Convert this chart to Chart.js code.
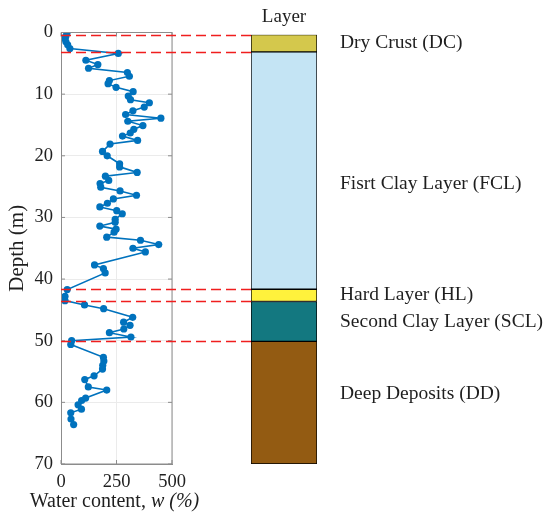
<!DOCTYPE html>
<html>
<head>
<meta charset="utf-8">
<script src="https://cdn.jsdelivr.net/npm/chart.js@4.4.1/dist/chart.umd.min.js"></script>
<style>
  html, body { margin: 0; padding: 0; background: #ffffff; }
  #wrap { position: relative; width: 545px; height: 515px; }
  canvas { position: absolute; left: 0; top: 0; }
</style>
</head>
<body>
<div id="wrap">
  <canvas id="left" width="545" height="515"></canvas>
  <canvas id="right" width="545" height="515"></canvas>
</div>
<script>
// ---- data ----
const depth = [0.1, 0.6, 1.0, 1.5, 2.0, 2.6, 3.4, 4.5, 5.2, 5.8, 6.5, 7.1, 7.8, 8.3, 8.9, 9.6,
  10.3, 10.9, 11.4, 12.1, 12.7, 13.3, 13.9, 14.4, 15.1, 15.7, 16.3, 16.8, 17.5, 18.1, 19.3, 20.0,
  21.3, 21.8, 22.7, 23.3, 24.0, 24.5, 25.1, 25.7, 26.4, 27.0, 27.7, 28.3, 28.9, 29.4, 30.3, 30.8,
  31.4, 31.9, 32.4, 33.2, 33.7, 34.4, 35.0, 35.6, 37.7, 38.3, 39.0, 41.7, 42.8, 43.5, 44.2, 44.8,
  46.2, 47.0, 47.5, 48.1, 48.7, 49.4, 50.0, 50.6, 52.7, 53.3, 54.0, 54.6, 55.7, 56.3, 57.5, 58.0,
  59.3, 59.7, 60.4, 61.1, 61.7, 62.7, 63.6];
const waterContent = [27, 22, 18, 22, 30, 40, 258, 112, 166, 124, 299, 308, 218, 212, 248, 325,
  303, 313, 398, 375, 324, 291, 450, 301, 369, 328, 312, 277, 345, 221, 187, 208,
  264, 264, 343, 200, 215, 176, 179, 266, 340, 236, 209, 175, 251, 276, 244, 244,
  175, 248, 239, 206, 358, 440, 324, 380, 151, 191, 199, 28, 18, 18, 106, 192,
  323, 282, 311, 283, 218, 315, 48, 44, 191, 193, 188, 187, 149, 107, 123, 206,
  111, 93, 77, 92, 44, 45, 57];
const layerNames = ['Dry Crust (DC)', 'Fisrt Clay Layer (FCL)', 'Hard Layer (HL)', 'Second Clay Layer (SCL)', 'Deep Deposits (DD)'];
const layerBounds = [0, 2.8, 41.5, 43.5, 50, 70];
const layerLabelDepth = [1.4, 24.4, 42.4, 46.9, 58.5];
const layerColors = ['#d4c84c', '#c4e4f4', '#fff23c', '#137880', '#935b12'];
const xTicks = [0, 250, 500];
const yTicks = [0, 10, 20, 30, 40, 50, 60, 70];

const FAMILY = "'Liberation Serif', 'Times New Roman', serif";
const TEXT = '#1f1f1f';
const AXIS = '#8c8c8c';
const GRID = '#ebebeb';

const leftBox = {
  id: 'leftBox',
  afterDraw(chart) {
    const ctx = chart.ctx, a = chart.chartArea;
    const xs = chart.scales.x, ys = chart.scales.y;
    ctx.save();
    ctx.strokeStyle = AXIS; ctx.lineWidth = 1;
    ctx.strokeRect(a.left + 0.5, a.top, a.right - a.left - 0.5, a.bottom - a.top);
    ctx.beginPath();
    yTicks.forEach(v => {
      const y = ys.getPixelForValue(v);
      ctx.moveTo(a.left, y); ctx.lineTo(a.left + 4, y);
      ctx.moveTo(a.right, y); ctx.lineTo(a.right - 4, y);
    });
    xTicks.forEach(v => {
      const x = xs.getPixelForValue(v);
      ctx.moveTo(x, a.bottom); ctx.lineTo(x, a.bottom - 4);
      ctx.moveTo(x, a.top); ctx.lineTo(x, a.top + 4);
    });
    ctx.stroke();
    // x axis title with italic part
    const p1 = 'Water content, ', p2 = 'w (%)';
    const f1 = "20px " + FAMILY, f2 = "italic 20px " + FAMILY;
    ctx.font = f1; const w1 = ctx.measureText(p1).width;
    ctx.font = f2; const w2 = ctx.measureText(p2).width;
    const cx = (a.left + a.right) / 2 - 2;
    const x0 = cx - (w1 + w2) / 2;
    ctx.fillStyle = TEXT; ctx.textBaseline = 'middle'; ctx.textAlign = 'left';
    ctx.font = f1; ctx.fillText(p1, x0, 502);
    ctx.font = f2; ctx.fillText(p2, x0 + w1, 502);
    ctx.restore();
  }
};

const leftChart = new Chart(document.getElementById('left'), {
  type: 'line',
  data: {
    datasets: [{
      data: depth.map((d, i) => ({ x: waterContent[i], y: d })),
      borderColor: '#0072BD',
      backgroundColor: '#0072BD',
      borderWidth: 1.6,
      pointRadius: 3.6,
      pointBorderWidth: 0,
      pointBackgroundColor: '#0072BD',
      tension: 0
    }]
  },
  options: {
    responsive: false,
    animation: false,
    layout: { padding: { left: 1, top: 32.5, right: 545 - 172, bottom: 0 } },
    plugins: { legend: { display: false }, tooltip: { enabled: false } },
    scales: {
      x: {
        type: 'linear', min: 0, max: 500,
        afterBuildTicks(s) { s.ticks = xTicks.map(v => ({ value: v })); },
        ticks: { font: { family: FAMILY, size: 18.5 }, color: TEXT, padding: 7, maxRotation: 0 },
        grid: { color: GRID, drawTicks: false },
        border: { color: AXIS },
        afterFit(s) { s.height = 51; }
      },
      y: {
        type: 'linear', reverse: true, min: 0, max: 70,
        afterBuildTicks(s) { s.ticks = yTicks.map(v => ({ value: v })); },
        ticks: { font: { family: FAMILY, size: 18.5 }, color: TEXT, padding: 8 },
        grid: { color: GRID, drawTicks: false },
        border: { color: AXIS },
        title: { display: true, text: 'Depth (m)', font: { family: FAMILY, size: 21 }, color: TEXT, padding: { top: 4, bottom: 0 } },
        afterFit(s) { s.width = 60; }
      }
    }
  },
  plugins: [leftBox]
});

const rightDecor = {
  id: 'rightDecor',
  afterDraw(chart) {
    const ctx = chart.ctx, a = chart.chartArea, ys = chart.scales.y;
    ctx.save();
    ctx.strokeStyle = '#f01e1e'; ctx.lineWidth = 1.6; ctx.setLineDash([10, 5]);
    const x0 = leftChart.chartArea.left;
    layerBounds.slice(0, -1).forEach(b => {
      const y = Math.round(ys.getPixelForValue(b)) + 0.5;
      ctx.beginPath(); ctx.moveTo(x0, y); ctx.lineTo(a.left, y); ctx.stroke();
    });
    ctx.setLineDash([]);
    ctx.fillStyle = TEXT; ctx.font = "19px " + FAMILY;
    ctx.textAlign = 'center'; ctx.textBaseline = 'middle';
    ctx.fillText('Layer', (a.left + a.right) / 2, 17);
    ctx.restore();
  }
};

const rightChart = new Chart(document.getElementById('right'), {
  type: 'bar',
  data: {
    labels: ['Layer'],
    datasets: layerNames.map((n, i) => ({
      label: n,
      data: [[layerBounds[i], layerBounds[i + 1]]],
      backgroundColor: layerColors[i],
      borderColor: '#000000',
      borderWidth: 1,
      borderSkipped: false,
      grouped: false,
      barPercentage: 1,
      categoryPercentage: 1
    }))
  },
  options: {
    responsive: false,
    animation: false,
    layout: { padding: { left: 251, top: 32.5, right: 0, bottom: 51 } },
    plugins: { legend: { display: false }, tooltip: { enabled: false } },
    scales: {
      x: { display: false },
      y: {
        position: 'right', reverse: true, min: 0, max: 70,
        afterBuildTicks(s) { s.ticks = layerLabelDepth.map(v => ({ value: v })); },
        ticks: { autoSkip: false, padding: 23, font: { family: FAMILY, size: 19.5 }, color: TEXT,
          callback: (v, i) => layerNames[i] },
        grid: { display: false, drawTicks: false },
        border: { display: false },
        afterFit(s) { s.width = 545 - 317; }
      }
    }
  },
  plugins: [rightDecor]
});
</script>
</body>
</html>
